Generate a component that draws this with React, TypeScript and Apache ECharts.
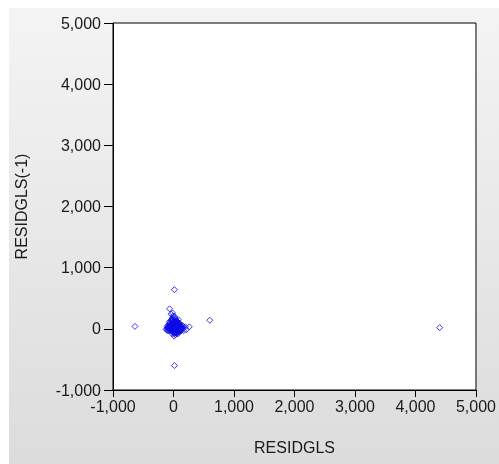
import React, { useEffect, useRef } from "react";
import * as echarts from "echarts";

// RESIDGLS (x) vs RESIDGLS(-1) (y)
const residX: number[] = [
  -637, 600, 4400, 15, 15,
  -65, -16, 82, 196, 261, 212,
  -40, -20, 0, 10, 30, -60, 20, 50, -10, 40, 70, -30, 0, 60, 90, -80, -50, 15, 80, 110,
  -15, 35, -35, 5, 55, 25, -5, 45, 100, 120, 130, -90, -70, -20, 20, -40, 5, 65, -55, 95,
  150, 140, 170, -25, 30, 75, -100, -65, 10, 160,
  -110, -95, -85, -75, -62, -48, -33, -22, -8, 3, 18, 27, 38, 52, 63, 72, 86, 97, 108, 118,
  -105, -88, -72, -58, -42, -28, -12, 8, 22, 33, 47, 58, 68, 83, 92, 104, 115, 127, 138,
  -78, -52, -36, -18, -2, 12, 28, 42, 57, 73, 88, -44, -26, 2, 24, 48, 66, 85, 102,
  -120, 132, 145, 12, -6, 38, 60, -30, 50, 78,
];
const residLag: number[] = [
  40, 140, 20, 640, -600,
  327, 260, 147, 33, 33, -16,
  20, -10, 0, 30, -20, 50, 60, 10, -50, -40, 40, 80, 100, 90, 20, 0, -30, -70, -10, 50,
  40, 25, -5, -30, -55, 110, 150, 130, 90, 30, -20, 30, 90, 180, 200, 240, 70, 65, 15, -45,
  10, 60, -30, -80, -95, -80, -20, 120, -120, 40,
  10, -35, 45, 5, -15, 62, 28, -40, 85, 12, -55, 42, 8, -25, 30, 72, -15, 58, 10, -5,
  40, 18, -28, 35, 75, -20, 55, 120, 92, -60, 68, 38, -35, 15, 75, -40, 22, 5, 35,
  65, 100, 140, 110, 48, -82, 82, -12, 112, -62, 48, 0, 160, 72, -70, 95, 20, 95, -28,
  -10, -30, 28, 170, 210, 160, 125, 130, -75, 105,
];
const axisMin = -1000;
const axisMax = 5000;
const axisStep = 1000;
const xName = "RESIDGLS";
const yName = "RESIDGLS(-1)";

const fmt = (v: number) => v.toLocaleString("en-US");

export default function App() {
  const ref = useRef<HTMLDivElement>(null);
  useEffect(() => {
    if (!ref.current) return;
    const chart = echarts.init(ref.current, undefined, { renderer: "svg" });
    const points = residX.map((x, i) => [x, residLag[i]]);
    const font = "'Liberation Sans', Arial, sans-serif";
    const axisCommon = {
      type: "value" as const,
      min: axisMin,
      max: axisMax,
      interval: axisStep,
      splitLine: { show: false },
      axisLine: { show: true, onZero: false, lineStyle: { color: "#000", width: 1 } },
      nameLocation: "middle" as const,
      nameTextStyle: { fontFamily: font, fontSize: 16, color: "#1a1a1a" },
    };
    chart.setOption({
      animation: false,
      graphic: [
        {
          type: "rect",
          shape: { x: 9, y: 8, width: 490, height: 456 },
          style: {
            fill: new echarts.graphic.LinearGradient(0, 0, 0, 1, [
              { offset: 0, color: "#f4f4f4" },
              { offset: 1, color: "#dcdcdc" },
            ]),
          },
          z: -10,
          silent: true,
        },
      ],
      grid: {
        left: 113,
        top: 23,
        width: 367,
        height: 367,
        show: true,
        backgroundColor: "#fff",
        borderColor: "#000",
        borderWidth: 1,
      },
      xAxis: {
        ...axisCommon,
        name: xName,
        nameGap: 49,
        axisTick: { show: true, inside: false, length: 7, lineStyle: { color: "#000" } },
        axisLabel: { fontFamily: font, fontSize: 16, color: "#1a1a1a", margin: 8, formatter: fmt },
      },
      yAxis: {
        ...axisCommon,
        name: yName,
        nameGap: 84,
        axisTick: { show: true, inside: false, length: 9, lineStyle: { color: "#000" } },
        axisLabel: { fontFamily: font, fontSize: 16, color: "#1a1a1a", margin: 12, formatter: fmt },
      },
      series: [
        {
          type: "scatter",
          data: points,
          symbol: "diamond",
          symbolSize: 6,
          itemStyle: { color: "rgba(0,0,0,0)", borderColor: "#0a0ae6", borderWidth: 1 },
        },
      ],
    });
    return () => chart.dispose();
  }, []);
  return (
    <div
      ref={ref}
      style={{ position: "fixed", left: 0, top: 0, width: 499, height: 464 }}
    />
  );
}
